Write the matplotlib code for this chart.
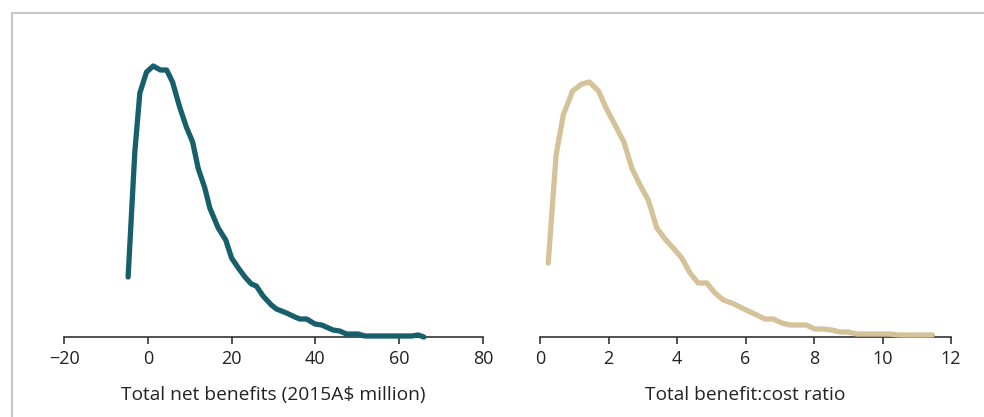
import matplotlib
matplotlib.use("Agg")
import matplotlib.pyplot as plt
from matplotlib.lines import Line2D

plt.rcParams['font.family'] = ['Open Sans', 'DejaVu Sans']

# Left panel: distribution of total net benefits (2015A$ million)
net_x = [-4.7, -3.1, -1.9, -0.3, 1.3, 3.0, 4.5, 5.9, 7.6, 9.2, 10.7, 12.0, 13.6, 14.8,
         16.8, 18.6, 20.0, 21.6, 23.2, 24.7, 25.9, 27.5, 29.5, 30.7, 33.1, 35.1, 36.3,
         37.9, 39.9, 41.5, 44.2, 45.8, 47.4, 50.2, 51.8, 55.0, 58.0, 61.0, 63.0, 64.5, 65.9]
net_y = [60, 185, 244, 265, 271, 267, 267, 255, 230, 210, 195, 169, 149, 129,
         109, 97, 79, 69, 60, 53, 51, 41, 32, 28, 24, 20, 18,
         18, 13, 12, 7, 6, 3, 3, 1, 1, 1, 1, 1, 2, 0]

# Right panel: distribution of total benefit:cost ratio
bcr_x = [0.24, 0.47, 0.68, 0.95, 1.22, 1.44, 1.71, 1.93, 2.19, 2.45, 2.68, 2.92, 3.16,
         3.41, 3.65, 3.89, 4.14, 4.38, 4.62, 4.87, 5.11, 5.35, 5.60, 5.84, 6.08, 6.33,
         6.57, 6.81, 7.06, 7.30, 7.54, 7.77, 8.03, 8.27, 8.52, 8.76, 9.00, 9.25, 9.49,
         9.73, 9.97, 10.21, 10.48, 10.72, 10.97, 11.21, 11.46]
bcr_y = [74, 182, 222, 246, 253, 255, 246, 229, 212, 195, 169, 152, 137,
         109, 98, 89, 79, 64, 54, 54, 44, 37, 34, 30, 26, 22,
         18, 18, 14, 12, 12, 12, 8, 8, 7, 5, 5, 3, 3,
         3, 3, 3, 2, 2, 2, 2, 2]

left_ticks = [-20, 0, 20, 40, 60, 80]
right_ticks = [0, 2, 4, 6, 8, 10, 12]
left_label = "Total net benefits (2015A\\$ million)"
right_label = "Total benefit:cost ratio"

teal = "#17606b"
beige = "#d4c399"

fig = plt.figure(figsize=(9.84, 4.17), dpi=100)

H = 417.0
W = 984.0
bottom_px = 337
top_px = 30
ax1 = fig.add_axes([64 / W, (H - bottom_px) / H, 419 / W, (bottom_px - top_px) / H])
ax2 = fig.add_axes([540 / W, (H - bottom_px) / H, 411 / W, (bottom_px - top_px) / H])

for ax, xs, ys, col, ticks, lab, xl in [
        (ax1, net_x, net_y, teal, left_ticks, left_label, (-20, 80)),
        (ax2, bcr_x, bcr_y, beige, right_ticks, right_label, (0, 12))]:
    ax.plot(xs, ys, color=col, lw=3.8, solid_capstyle='round', solid_joinstyle='round',
            clip_on=False, zorder=3)
    ax.set_xlim(*xl)
    ax.set_ylim(0, bottom_px - top_px)
    for s in ['top', 'right', 'left']:
        ax.spines[s].set_visible(False)
    ax.spines['bottom'].set_color('#333333')
    ax.spines['bottom'].set_linewidth(1.2)
    ax.set_yticks([])
    ax.set_xticks(ticks)
    ax.set_xticklabels([("\u2212" + str(-t)) if t < 0 else str(t) for t in ticks])
    ax.tick_params(axis='x', direction='out', length=5, width=1.2, color='#333333',
                   labelsize=13, labelcolor='#222222', pad=4)
    ax.set_xlabel(lab, fontsize=13.8, color='#222222', labelpad=13)
    ax.patch.set_alpha(0)

# Figure frame lines (top and left)
fig.add_artist(Line2D([12 / W, 1.0], [1 - 13 / H, 1 - 13 / H], color='#c8c8c8', lw=1.5))
fig.add_artist(Line2D([12 / W, 12 / W], [0, 1 - 13 / H], color='#c8c8c8', lw=1.5))

fig.savefig("out.png", dpi=100)
